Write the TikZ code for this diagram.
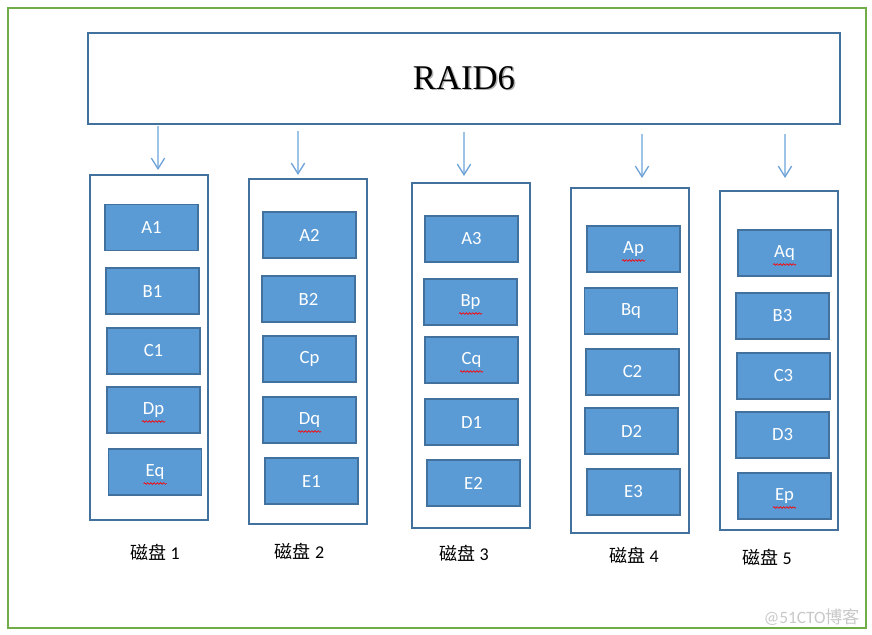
\documentclass[tikz,border=0pt]{standalone}
\usepackage{fontspec}
\setmainfont{Liberation Serif}
\newfontfamily\calib{Carlito}
\newfontfamily\cjk{Noto Sans CJK SC}
\usetikzlibrary{arrows.meta,calc,decorations.pathmorphing}
\definecolor{frame}{HTML}{70AD47}
\definecolor{edge}{HTML}{41719C}
\definecolor{fillb}{HTML}{5B9BD5}
\definecolor{arr}{HTML}{9DC3E6}
\definecolor{arrh}{HTML}{6FA3D8}
\definecolor{wm}{HTML}{C8C8C8}
\tikzset{
  disk/.style={draw=edge,line width=1.2pt,minimum width=88.5pt,minimum height=258.75pt,inner sep=0pt},
  blk/.style={draw=edge,fill=fillb,line width=1.4pt,minimum width=69.75pt,minimum height=34.5pt,inner sep=0pt,text=white,font=\calib\fontsize{14pt}{16pt}\selectfont},
  lbl/.style={font=\fontsize{13.5pt}{15pt}\selectfont,inner sep=0pt},
  down/.style={draw=arr,line width=1pt,-{Straight Barb[length=8pt,width=10pt,line width=1pt,color=arrh]}},
  wavy/.style={draw=red,line width=0.5pt,decorate,decoration={snake,amplitude=0.6pt,segment length=2.4pt}}
}
\newcommand{\sq}[1]{\path[wavy] ($(#1.center)+(-11.5,11.5)$) -- ($(#1.center)+(11.5,11.5)$);}
\begin{document}
\begin{tikzpicture}[x=0.75pt,y=-0.75pt]
\useasboundingbox (0,0) rectangle (872,635);
\draw[frame,line width=1.5pt] (8,8) rectangle (866,628);
\node[draw=edge,line width=1.2pt,minimum width=564pt,minimum height=68.25pt,inner sep=0pt] (raid) at (464,78.5) {};
\node[text=black!30,font=\fontsize{26pt}{30pt}\selectfont] at (465.5,79.5) {RAID6};
\node[font=\fontsize{26pt}{30pt}\selectfont] (title) at (464,78) {RAID6};
% disks
\node[disk] (d1) at (149,347.5) {};
\node[disk] (d2) at (308,351.5) {};
\node[disk] (d3) at (471,355.5) {};
\node[disk] (d4) at (630,360.5) {};
\node[disk,minimum height=254.25pt] (d5) at (779,360.5) {};
% arrows
\coordinate (s1) at (158,126); \coordinate (e1) at (158,170);
\coordinate (s2) at (298,131); \coordinate (e2) at (298,175);
\coordinate (s3) at (464,132); \coordinate (e3) at (464,176);
\coordinate (s4) at (642,134); \coordinate (e4) at (642,178);
\coordinate (s5) at (785,134); \coordinate (e5) at (785,178);
\foreach \i in {1,...,5} {\path[down] (s\i) -- (e\i);}
% disk 1
\node[blk] (A1) at (151.5,227.5) {A1};
\node[blk] (B1) at (152.5,291) {B1};
\node[blk] (C1) at (153.5,351) {C1};
\node[blk] (Dp) at (153.5,410) {Dp};
\node[blk] (Eq) at (155,472) {Eq};
% disk 2
\node[blk] (A2) at (309.5,235) {A2};
\node[blk] (B2) at (308.5,299) {B2};
\node[blk] (Cp) at (309.5,359) {Cp};
\node[blk] (Dq) at (309.5,420) {Dq};
\node[blk] (E1) at (311.5,481) {E1};
% disk 3
\node[blk] (A3) at (471.5,239) {A3};
\node[blk] (Bp) at (470.5,302) {Bp};
\node[blk] (Cq) at (471.5,360) {Cq};
\node[blk] (D1) at (471.5,422) {D1};
\node[blk] (E2) at (473.5,483) {E2};
% disk 4
\node[blk] (Ap) at (633.5,249) {Ap};
\node[blk] (Bq) at (631,311) {Bq};
\node[blk] (C2) at (632.5,372) {C2};
\node[blk] (D2) at (631.5,431) {D2};
\node[blk] (E3) at (633.5,492) {E3};
% disk 5
\node[blk] (Aq) at (784.5,253) {Aq};
\node[blk] (B3) at (782.5,316) {B3};
\node[blk] (C3) at (783.5,376) {C3};
\node[blk] (D3) at (782.5,435) {D3};
\node[blk] (Ep) at (784.5,496) {Ep};
% spell-check squiggles
\sq{Dp}\sq{Eq}\sq{Dq}\sq{Bp}\sq{Cq}\sq{Ap}\sq{Aq}\sq{Ep}
% labels
\node[lbl] (l1) at (155,552) {{\cjk 磁盘} {\calib 1}};
\node[lbl] (l2) at (299.5,551) {{\cjk 磁盘} {\calib 2}};
\node[lbl] (l3) at (464,553) {{\cjk 磁盘} {\calib 3}};
\node[lbl] (l4) at (634,555) {{\cjk 磁盘} {\calib 4}};
\node[lbl] (l5) at (767,557) {{\cjk 磁盘} {\calib 5}};
\node[text=wm,inner sep=0pt,font=\fontsize{13pt}{15pt}\selectfont] (wmk) at (812,617) {\calib @51CTO\cjk 博客};
\end{tikzpicture}
\end{document}
